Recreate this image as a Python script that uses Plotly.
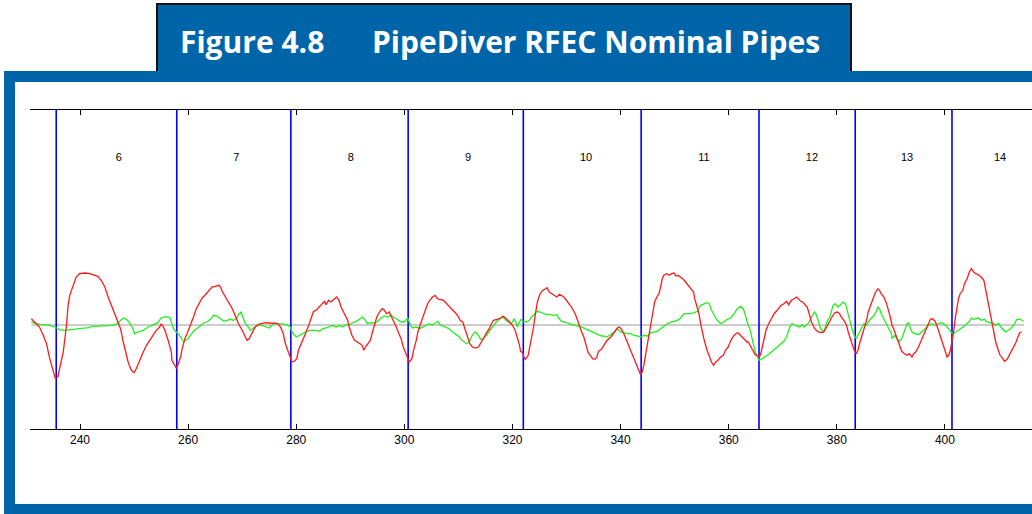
import plotly.graph_objects as go

# Pipe joint boundaries along the run (distance units) and joint numbers
joint_pos = [235.6, 257.9, 279.0, 300.7, 322.0, 343.8, 365.6, 383.4, 401.3]
joint_labels = ["6", "7", "8", "9", "10", "11", "12", "13", "14"]
label_pos = [247.2, 268.9, 290.1, 311.8, 333.6, 355.4, 375.4, 393.0, 410.2]
label_level = 16.7

tick_vals = [240, 260, 280, 300, 320, 340, 360, 380, 400]
tick_text = ["240", "260", "280", "300", "320", "340", "360", "380", "400"]

# Red channel
red_x = [
    231.0, 231.6, 232.5, 233.2, 233.8, 234.4, 235.0, 235.4, 235.9, 236.2, 236.9, 237.5,
    237.8, 238.1, 238.7, 239.3, 239.9, 240.9, 241.8, 242.7, 243.3, 243.9, 244.6, 245.2,
    245.8, 246.4, 247.0, 247.5, 248.0, 248.4, 248.9, 249.5, 250.0, 250.4, 251.0, 251.7,
    252.3, 252.9, 253.5, 254.1, 254.7, 255.0, 255.3, 255.7, 256.3, 256.9,
    257.0, 257.3, 257.8, 258.1, 258.6, 258.9, 259.4, 259.8, 260.2, 260.6, 261.0, 261.5,
    262.0, 262.6, 263.2, 263.8, 264.4, 265.0, 265.7, 266.0, 266.3, 266.9, 267.5, 268.1,
    268.7, 269.3, 270.0, 270.5, 270.9, 271.3, 271.8, 272.4, 273.0, 273.7, 274.3, 274.9,
    275.5, 276.1, 276.6, 277.1, 277.6, 278.0, 278.5, 278.9, 279.2, 279.7, 280.1, 280.4,
    281.1, 281.7, 282.3, 282.8, 283.2,
    283.7, 284.3, 284.9, 285.2, 285.5, 286.0, 286.4, 287.0, 287.5, 287.9, 288.3, 288.9,
    289.5, 289.8, 290.3, 290.8, 291.4, 291.8, 292.2, 292.5, 292.8, 293.2, 293.7, 294.1,
    294.5, 294.9, 295.4, 295.9, 296.3, 296.7, 297.2, 297.5, 298.0, 298.5, 299.0, 299.4,
    299.8, 300.3, 300.6, 300.9, 301.4, 301.7, 302.2, 302.5, 302.9, 303.4, 303.9, 304.3,
    304.7, 305.2, 305.7, 306.0, 306.5, 307.0, 307.4, 307.8, 308.3, 309.0, 309.6, 310.2,
    310.3, 310.8, 311.2, 311.6, 312.1, 312.6, 313.1, 313.7, 314.1, 314.6, 315.1, 315.7,
    316.1, 316.5, 317.1, 317.6, 318.0, 318.3, 318.9, 319.5, 320.0, 320.5, 320.9, 321.3,
    321.5, 321.9, 322.1, 322.4, 322.9, 323.2, 323.5, 323.9, 324.2, 324.6, 325.1, 325.6,
    326.0, 326.4, 326.8, 327.2, 327.7, 328.2, 328.7, 329.1, 329.5, 330.0, 330.5, 330.9,
    331.6, 332.0, 332.4, 332.8, 333.2, 333.6, 334.0, 334.5, 334.8, 335.3, 335.6, 335.9,
    336.5,
    336.9, 337.5, 338.2, 338.8, 339.4, 339.7, 340.1, 340.6, 341.1, 341.6, 342.0, 342.5,
    343.0, 343.3, 343.7, 344.0, 344.3, 344.6, 345.0, 345.3, 345.6, 345.9, 346.3, 346.7,
    347.1, 347.4, 347.7, 348.0, 348.5, 349.0, 349.4, 349.9, 350.2, 350.6, 351.1, 351.6,
    352.0, 352.5, 353.0, 353.5, 353.7, 354.1, 354.5, 354.8, 355.1, 355.4, 355.9, 356.3,
    356.8, 357.2, 357.6, 358.0, 358.5, 359.0, 359.4, 359.9, 360.4, 360.9, 361.3, 361.7,
    362.2, 362.8, 363.4,
    363.6, 364.1, 364.5, 364.9, 365.4, 365.7, 366.0, 366.3, 366.7, 366.9, 367.4, 367.9,
    368.4, 368.8, 369.2, 369.7, 370.2, 370.7, 371.1, 371.6, 372.1, 372.5, 372.9, 373.3,
    373.7, 374.2, 374.5, 374.8, 375.0, 375.3, 375.6, 375.9, 376.2, 376.6, 377.1, 377.6,
    378.1, 378.4, 378.7, 379.1, 379.6, 380.1, 380.5, 380.8, 381.3, 381.8, 382.1, 382.4,
    382.7, 383.2, 383.6, 383.9, 384.2, 384.7, 385.2, 385.5, 385.8, 386.3, 386.7, 387.1,
    387.6, 387.9, 388.2, 388.7, 389.2, 389.5, 389.8, 390.1,
    390.2, 390.5, 390.8, 391.1, 391.6, 392.0, 392.5, 393.0, 393.4, 393.9, 394.2, 394.6,
    395.1, 395.6, 396.1, 396.5, 396.9, 397.3, 397.7, 398.2, 398.7, 399.1, 399.6, 399.9,
    400.4, 400.7, 401.0, 401.3, 401.6, 401.9, 402.2, 402.5, 402.8, 403.3, 403.6, 404.1,
    404.5, 404.9, 405.3, 405.7, 406.2, 406.7, 407.2, 407.5, 407.8, 408.1, 408.4, 408.7,
    409.0, 409.4, 409.8, 410.2, 410.7, 411.0, 411.5, 411.9, 412.3, 412.7, 413.1, 413.5,
    413.8, 414.2,
]
red_y = [
    0.63, 0.3, -0.2, -1.03, -1.87, -3.37, -4.7, -5.3, -5.2, -4.37, -2.7, -0.03,
    1.97, 2.97, 3.97, 4.8, 5.13, 5.2, 5.13, 4.97, 4.87, 4.47, 3.8, 2.8,
    1.97, 1.13, 0.47, -0.37, -1.7, -2.7, -3.7, -4.53, -4.77, -4.37, -3.53, -2.7,
    -2.03, -1.53, -0.97, -0.53, -0.23, 0.1, -0.07, -0.53, -1.53, -2.7,
    -3.53, -3.87, -4.3, -4.03, -3.2, -2.37, -1.37, -0.87, -0.37, 0.13, 0.8, 1.63,
    2.13, 2.7, 3.03, 3.47, 3.8, 3.87, 3.97, 3.8, 3.37, 2.8, 2.3, 1.7,
    0.97, 0.13, -0.53, -1.03, -1.53, -1.37, -0.87, -0.2, 0.07, 0.13, 0.23, 0.2,
    0.2, 0.2, 0.13, -0.2, -0.87, -1.87, -2.7, -3.37, -3.7, -3.6, -3.37, -2.53,
    -1.53, -0.87, -0.03, 0.8, 1.37,
    1.47, 1.8, 2.13, 2.37, 2.03, 2.47, 2.3, 2.63, 2.8, 2.47, 1.8, 1.13,
    0.47, -0.2, -1.03, -1.53, -1.7, -1.87, -2.03, -2.53, -2.2, -1.87, -1.53, -0.7,
    0.13, 0.8, 1.3, 1.63, 1.47, 1.13, 1.3, 0.97, 0.47, -0.2, -0.87, -1.37,
    -2.2, -2.87, -3.2, -3.7, -3.37, -2.53, -1.53, -0.7, -0.03, 0.8, 1.47, 2.13,
    2.47, 2.8, 2.97, 2.7, 2.53, 2.53, 2.37, 2.13, 1.8, 1.47, 1.13, 0.63,
    0.47, 0.3, -0.37, -1.2, -1.87, -2.2, -2.3, -2.2, -1.87, -1.37, -0.87, -0.37,
    0.13, 0.47, 0.57, 0.63, 0.8, 0.87, 0.63, 0.3, -0.03, -0.53, -1.2, -2.03,
    -2.63, -2.77, -3.2, -3.43, -3.03, -2.2, -1.2, -0.2, 0.97, 2.3, 3.13, 3.47,
    3.57, 3.73, 3.3, 3.13, 2.97, 2.8, 3.07, 2.97, 2.8, 2.47, 2.13, 1.8,
    1.13, 0.47, -0.2, -0.7, -1.2, -2.03, -2.77, -3.1, -3.37, -3.43, -3.2, -2.63,
    -2.4,
    -2.03, -1.53, -1.2, -0.7, -0.3, -0.2, -0.37, -0.87, -1.53, -2.2, -2.87, -3.37,
    -4.03, -4.53, -4.97, -4.7, -4.03, -3.03, -1.7, -0.7, 0.3, 1.3, 2.3, 2.8,
    3.13, 3.8, 4.63, 4.97, 5.13, 4.97, 5.13, 5.2, 4.9, 4.97, 4.8, 4.57,
    4.3, 3.97, 3.63, 3.3, 2.63, 1.97, 1.13, 0.13, -0.7, -1.37, -2.37, -3.03,
    -3.7, -4.03, -3.7, -3.53, -3.2, -3.03, -2.53, -2.2, -1.53, -1.1, -0.87, -0.77,
    -1.03, -1.37, -1.7,
    -1.7, -2.2, -2.7, -2.97, -3.1, -3.2, -2.7, -2.03, -1.2, -0.53, 0.13, 0.63,
    1.13, 1.37, 1.63, 1.97, 2.13, 2.37, 2.03, 2.47, 2.63, 2.8, 2.63, 2.37,
    2.3, 2.03, 1.8, 1.3, 0.8, 0.3, -0.03, -0.37, -0.53, -0.7, -0.77, -0.7,
    -0.2, 0.13, 0.47, 0.8, 1.23, 1.3, 1.13, 0.8, 0.47, -0.03, -0.7, -1.2,
    -1.87, -2.53, -2.87, -2.53, -1.87, -1.03, -0.2, 0.47, 1.3, 2.13, 2.8, 3.23,
    3.63, 3.47, 3.13, 2.8, 2.13, 1.63, 0.97, 0.3,
    -0.03, -0.37, -0.87, -1.37, -1.97, -2.63, -2.87, -3.03, -2.87, -3.2, -2.87, -2.7,
    -2.2, -1.53, -0.87, -0.37, 0.13, 0.57, 0.63, 0.37, -0.37, -1.03, -1.87, -2.53,
    -3.2, -3.03, -2.53, -1.53, -0.7, 0.63, 1.63, 2.63, 3.13, 3.47, 4.13, 4.63,
    5.3, 5.63, 5.3, 5.13, 5.03, 4.8, 4.47, 3.63, 2.97, 1.97, 1.3, 0.3,
    -0.7, -1.7, -2.43, -3.03, -3.37, -3.63, -3.43, -3.03, -2.7, -2.2, -1.77, -1.2,
    -0.77, -0.7,
]

# Green channel
green_x = [
    231.0, 231.6, 232.5, 233.5, 234.4, 235.3, 236.2, 237.2, 238.1, 239.3, 240.6, 241.5,
    242.4, 243.3, 244.3, 245.2, 246.1, 246.7, 247.3, 248.0, 248.6, 249.2, 249.8, 250.1,
    250.7, 251.7, 252.6, 253.5, 254.4, 255.0, 255.8, 256.6,
    257.0, 257.3, 257.8, 258.3, 258.7, 259.2, 259.5, 260.0, 260.4, 261.0, 261.6, 262.3,
    262.9, 263.5, 264.1, 264.7, 265.3, 266.0, 266.6, 267.2, 267.8, 268.4, 269.0, 269.3,
    269.8, 270.1, 270.6, 271.1, 271.5, 271.9, 272.6, 273.2, 273.8, 274.4, 275.0, 275.5,
    276.1, 276.7, 277.7, 278.3, 278.9, 279.3, 280.0, 280.6, 281.2, 281.8, 282.4, 283.2,
    283.7, 284.3, 284.9, 285.5, 286.1, 286.7, 287.4, 288.0, 288.6, 289.2, 289.8, 290.4,
    291.1, 291.7, 292.3, 292.8, 293.2, 293.8, 294.5, 295.1, 295.7, 296.3, 296.9, 297.5,
    298.2, 298.8, 299.4, 300.0, 300.3, 300.6, 300.9, 301.2, 301.5, 302.2, 302.8, 303.4,
    304.0, 304.6, 305.1, 305.5, 306.2, 306.6, 307.1, 307.7, 308.3, 308.9, 309.6, 310.2,
    310.3, 310.9, 311.5, 312.0, 312.4, 312.9, 313.2, 313.7, 314.1, 314.6, 315.2, 315.8,
    316.5, 317.1, 317.7, 318.2, 318.6, 319.2, 319.8, 320.3, 320.6, 320.9, 321.3, 321.6,
    321.9, 322.3, 322.6, 323.1, 323.5, 324.0, 324.5, 325.1, 325.7, 326.3, 326.9, 327.6,
    328.2, 328.7, 329.1, 329.7, 330.3, 330.9, 331.6, 332.2, 332.8, 333.4, 334.0, 334.6,
    335.3, 335.9, 336.5,
    336.9, 337.5, 338.2, 338.8, 339.4, 340.0, 340.6, 341.2, 341.9, 342.5, 343.1, 343.7,
    344.3, 345.0, 345.6, 346.2, 346.8, 347.4, 348.0, 348.6, 349.3, 349.9, 350.5, 351.1,
    351.7, 352.3, 353.0, 353.6, 354.2, 354.8, 355.4, 356.0, 356.4, 356.7, 357.3, 357.9,
    358.5, 359.1, 359.7, 360.4, 361.0, 361.6, 362.2, 362.7, 363.1, 363.4,
    363.6, 363.9, 364.2, 364.5, 364.9, 365.3, 365.6, 366.0, 366.7, 367.3, 367.9, 368.5,
    369.1, 369.7, 370.2, 370.7, 371.0, 371.3, 371.7, 372.2, 372.7, 373.1, 373.6, 373.9,
    374.4, 374.8, 375.2, 375.6, 375.9, 376.2, 376.5, 377.0, 377.5, 377.9, 378.2, 378.7,
    379.0, 379.3, 379.7, 380.2, 380.7, 381.1, 381.6, 381.9, 382.4, 382.8, 383.2, 383.6,
    383.9, 384.5, 385.0, 385.5, 385.9, 386.4, 386.9, 387.3, 387.6, 387.9, 388.2, 388.8,
    389.5, 390.1,
    390.2, 390.7, 391.1, 391.6, 392.0, 392.5, 393.0, 393.3, 393.6, 394.0, 394.5, 395.1,
    395.7, 396.4, 397.0, 397.6, 398.2, 398.8, 399.4, 400.1, 400.7, 401.2, 401.6, 402.0,
    402.5, 403.1, 403.8, 404.4, 404.9, 405.3, 405.7, 406.2, 406.7, 407.3, 407.8, 408.4,
    409.0, 409.4, 409.9, 410.5, 411.2, 411.7, 412.1, 412.7, 413.3, 413.9, 414.6,
]
green_y = [
    0.3, 0.2, 0.07, 0.03, -0.03, -0.2, -0.47, -0.53, -0.47, -0.43, -0.37, -0.27,
    -0.13, -0.1, -0.13, -0.1, -0.03, 0.07, 0.37, 0.7, 0.57, 0.2, -0.37, -0.87,
    -0.7, -0.53, -0.2, 0.03, 0.23, 0.7, 0.83, 0.77,
    0.13, -0.37, -0.7, -0.97, -1.3, -1.7, -1.53, -1.37, -1.03, -0.63, -0.37, -0.1,
    0.2, 0.3, 0.57, 0.97, 0.9, 0.63, 0.37, 0.47, 0.57, 0.47, 0.7, 1.03,
    1.3, 0.8, 0.13, -0.2, -0.53, -0.37, -0.1, -0.03, -0.03, -0.2, -0.3, -0.03,
    0.2, 0.13, 0.03, 0.03, -0.2, -0.77, -1.2, -1.03, -0.87, -0.7, -0.53, -0.53,
    -0.53, -0.63, -0.37, -0.3, -0.2, -0.03, -0.2, -0.03, -0.2, 0.03, -0.03, 0.23,
    0.37, 0.63, 0.8, 0.47, 0.13, 0.23, 0.2, 0.37, 0.7, 0.9, 0.8, 0.97,
    0.7, 0.47, 0.3, 0.3, 0.53, 0.7, 0.3, -0.1, -0.3, -0.2, -0.37, -0.2,
    -0.03, 0.13, -0.03, 0.13, 0.37, 0.03, -0.1, -0.2, -0.37, -0.7, -0.97, -1.2,
    -1.37, -1.63, -1.87, -1.7, -1.2, -0.77, -0.7, -1.03, -1.43, -1.37, -1.03, -0.53,
    -0.03, 0.37, 0.63, 0.8, 0.57, 0.3, 0.13, 0.63, 0.3, -0.2, 0.3, 0.57,
    0.37, 0.3, 0.3, 0.47, 0.8, 1.03, 1.37, 1.3, 1.13, 1.03, 1.07, 0.97,
    1.03, 0.57, 0.37, 0.3, 0.2, 0.07, -0.03, -0.1, -0.2, -0.37, -0.53, -0.63,
    -0.87, -0.97, -1.1,
    -1.1, -1.2, -0.97, -0.7, -0.37, -0.7, -0.77, -0.87, -0.87, -1.03, -1.1, -1.2,
    -1.03, -1.1, -0.77, -0.7, -0.63, -0.37, -0.1, 0.13, 0.3, 0.37, 0.47, 0.7,
    1.13, 1.13, 1.13, 1.23, 1.37, 1.97, 2.13, 2.23, 2.13, 1.63, 0.97, 0.47,
    0.13, 0.3, 0.57, 0.7, 1.13, 1.63, 1.87, 1.63, 0.97, 0.3,
    -0.03, -0.37, -1.03, -1.87, -2.7, -3.2, -3.53, -3.43, -3.2, -2.97, -2.7, -2.43,
    -2.1, -1.87, -1.63, -1.2, -0.7, -0.2, 0.13, -0.03, -0.1, -0.2, 0.03, -0.2,
    -0.03, 0.23, 0.7, 1.13, 1.3, 1.03, 0.47, -0.37, -0.7, -0.2, 0.37, 0.8,
    1.37, 1.97, 2.13, 1.8, 2.03, 2.3, 2.13, 1.47, 0.63, -0.37, -1.03, -1.37,
    -1.03, -0.37, 0.13, -0.03, 0.37, 0.7, 0.97, 1.37, 1.8, 1.63, 1.13, 0.47,
    -0.2, -0.87,
    -1.37, -1.03, -1.37, -1.63, -1.37, -0.7, 0.13, 0.23, -0.37, -0.77, -0.87, -0.97,
    -0.7, -0.37, -0.03, 0.13, -0.03, 0.13, 0.23, -0.03, -0.37, -0.77, -0.87, -0.7,
    -0.53, -0.3, -0.03, 0.3, 0.7, 0.57, 0.63, 0.7, 0.47, 0.57, 0.3, 0.23,
    0.13, -0.03, 0.13, -0.3, -0.7, -0.53, -0.37, -0.03, 0.57, 0.57, 0.37,
]

Y_MIN, Y_MAX = -10.4, 21.5
X_MIN, X_MAX = 230.75, 416.1

W, H = 1032, 514
ML, MR, MT, MB = 30, 0, 110, 85
BLUE = "#0064a8"


def px(x):
    return (x - ML) / (W - ML - MR)


def py(y):
    return (H - MB - y) / (H - MT - MB)


fig = go.Figure()

# baseline reference
fig.add_trace(go.Scatter(
    x=[red_x[0], green_x[-1]], y=[0, 0], mode="lines",
    line=dict(color="#cccccc", width=2), hoverinfo="skip", showlegend=False))

# joint markers
jx, jy = [], []
for p in joint_pos:
    jx += [p, p, None]
    jy += [Y_MIN, Y_MAX, None]
fig.add_trace(go.Scatter(
    x=jx, y=jy, mode="lines", line=dict(color="#0000ff", width=1.6),
    hoverinfo="skip", showlegend=False))

fig.add_trace(go.Scatter(
    x=green_x, y=green_y, mode="lines", name="Channel 2",
    line=dict(color="#22ee22", width=1.3), showlegend=False))
fig.add_trace(go.Scatter(
    x=red_x, y=red_y, mode="lines", name="Channel 1",
    line=dict(color="#ff1a1a", width=1.3), showlegend=False))

# joint numbers
fig.add_trace(go.Scatter(
    x=label_pos, y=[label_level] * len(label_pos), mode="text",
    text=joint_labels, textposition="middle center",
    textfont=dict(family="Liberation Sans, Arial, sans-serif", size=11, color="black"),
    hoverinfo="skip", showlegend=False))

shapes = [
    # title tab
    dict(type="rect", xref="paper", yref="paper",
         x0=px(157), x1=px(851), y0=py(73), y1=py(4),
         fillcolor=BLUE, line=dict(color="#111111", width=2), layer="above"),
    # surrounding frame
    dict(type="rect", xref="paper", yref="paper",
         x0=px(9.5), x1=px(1060), y0=py(509.5), y1=py(76.5),
         fillcolor="rgba(0,0,0,0)", line=dict(color=BLUE, width=11), layer="above"),
]

title_font = dict(family="Open Sans, sans-serif", size=30, color="white")
annotations = [
    dict(xref="paper", yref="paper", x=px(178), y=py(41), xanchor="left", yanchor="middle",
         text="<b>Figure 4.8</b>", showarrow=False, font=title_font),
    dict(xref="paper", yref="paper", x=px(370), y=py(41), xanchor="left", yanchor="middle",
         text="<b>PipeDiver RFEC Nominal Pipes</b>", showarrow=False, font=title_font),
]

fig.update_layout(
    width=W, height=H,
    margin=dict(l=ML, r=MR, t=MT, b=MB, pad=0),
    paper_bgcolor="white", plot_bgcolor="white",
    shapes=shapes, annotations=annotations,
    xaxis=dict(
        range=[X_MIN, X_MAX], tickvals=tick_vals, ticktext=tick_text,
        ticks="inside", ticklen=5, tickwidth=1, tickcolor="black",
        showline=True, linecolor="black", linewidth=1, mirror="ticks",
        showgrid=False, zeroline=False,
        tickfont=dict(family="Liberation Sans, Arial, sans-serif", size=12, color="black"),
    ),
    yaxis=dict(range=[Y_MIN, Y_MAX], visible=False, showgrid=False, zeroline=False),
)

fig.write_html("out.html")
